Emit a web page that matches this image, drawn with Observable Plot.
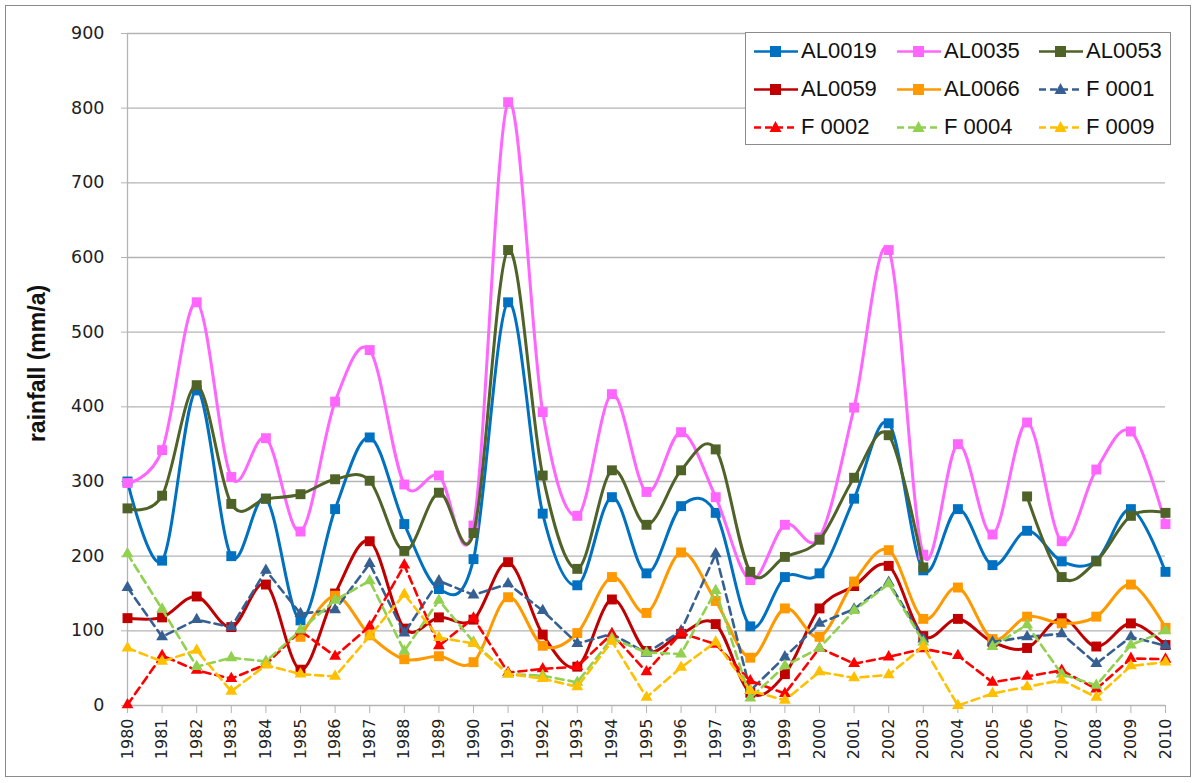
<!DOCTYPE html>
<html><head><meta charset="utf-8">
<script src="https://cdn.jsdelivr.net/npm/d3@7"></script>
<script src="https://cdn.jsdelivr.net/npm/@observablehq/plot@0.6"></script>
<style>
body{margin:0;background:#fff;}
#wrap{position:relative;width:1197px;height:783px;overflow:hidden;}
#chart{position:absolute;left:0;top:0;}
#frame{position:absolute;left:5px;top:5px;width:1184px;height:770px;border:1.5px solid #8a8a8a;pointer-events:none;}
#legend{position:absolute;left:745px;top:32px;width:424px;height:111px;border:1px solid #8c8c8c;background:#fff;}
.item{position:absolute;height:30px;display:flex;align-items:center;font-family:"Liberation Sans",Arial,sans-serif;font-size:22px;color:#111;white-space:nowrap;}
.item svg{margin-right:3px;}
</style></head><body>
<div id="wrap"><div id="chart"></div><div id="legend"></div><div id="frame"></div></div>
<script>
const years = d3.range(1980, 2011);
const yTicks = [0, 100, 200, 300, 400, 500, 600, 700, 800, 900];

const AL0019 = [300,194,422,200,277,114,263,359,243,156,196,540,257,161,279,177,267,258,106,172,177,277,378,181,263,188,234,193,194,263,179];
const AL0035 = [298,342,540,306,358,233,407,476,296,308,241,808,393,254,417,286,366,279,168,242,225,399,610,202,350,229,379,220,316,367,243];
const AL0053 = [264,281,429,270,277,283,303,301,207,285,231,610,308,183,315,242,315,343,179,199,222,305,362,185,null,null,280,172,193,254,258];
const AL0059 = [117,118,146,105,162,48,150,220,103,118,115,192,95,52,142,73,96,109,17,42,130,160,187,93,116,85,77,117,79,110,81];
const AL0066 = [null,null,null,null,null,92,147,94,62,66,58,145,80,97,172,124,205,140,64,130,92,166,208,116,158,89,119,110,119,162,104];
const F0001 = [158,92,115,105,181,123,128,190,97,167,148,163,127,83,96,70,100,203,20,65,110,129,165,89,null,85,92,96,56,92,80];
const F0002 = [1,67,47,36,55,100,66,106,188,80,117,44,49,52,96,45,97,82,33,16,77,56,65,76,67,31,39,47,22,63,62];
const F0004 = [203,129,52,64,59,101,141,167,73,141,85,42,40,31,90,71,69,154,10,53,77,127,163,85,null,79,108,42,27,81,100];
const F0009 = [77,59,74,19,54,42,39,93,149,91,83,42,36,25,86,11,51,85,20,7,45,37,41,79,0,16,25,34,11,53,58];

const seriesNames = ["AL0019","AL0035","AL0053","AL0059","AL0066","F 0001","F 0002","F 0004","F 0009"];
const seriesValues = [AL0019,AL0035,AL0053,AL0059,AL0066,F0001,F0002,F0004,F0009];

// styles (kept apart from data)
const seriesColors = ["#0070c0","#ff66ff","#4f6228","#c00000","#ff9900","#376092","#ff0000","#92d050","#ffc000"];
const seriesSymbols = ["square","square","square","square","square","triangle","triangle","triangle","triangle"];

const rows = [];
seriesNames.forEach((n, i) => years.forEach((yr, j) => rows.push({series: n, year: yr, value: seriesValues[i][j]})));

const gridColor = "#b4b4b4";
const marks = [
  Plot.gridY(yTicks, {stroke: gridColor, strokeOpacity: 1, strokeWidth: 1.3}),
  Plot.ruleX([1980], {stroke: gridColor, strokeWidth: 1.3}),
  Plot.axisY(yTicks, {tickSize: 6, tickPadding: 17, fontSize: 17.5, stroke: gridColor, label: null}),
  Plot.axisX(years, {tickSize: 8, tickPadding: 5, tickRotate: -90, fontSize: 16, stroke: gridColor, tickFormat: d => String(d), label: null}),
  Plot.text(["rainfall (mm/a)"], {frameAnchor: "left", textAnchor: "middle", rotate: -90, dx: -90, dy: -6, fontWeight: "bold", fontSize: 23, fontFamily: "Liberation Sans Narrow, Liberation Sans, sans-serif", fill: "#111"})
];
seriesNames.forEach((n, i) => {
  const data = rows.filter(d => d.series === n);
  const isSq = seriesSymbols[i] === "square";
  marks.push(Plot.line(data, {x: "year", y: "value", stroke: seriesColors[i], strokeWidth: isSq ? 3 : 2.6,
    curve: isSq ? "cardinal" : "linear", strokeDasharray: isSq ? null : "8,5"}));
  marks.push(Plot.dot(data.filter(d => d.value != null), {x: "year", y: "value", symbol: seriesSymbols[i],
    r: isSq ? 5.6 : 4.4, fill: seriesColors[i], stroke: "none"}));
});

const chart = Plot.plot({
  width: 1197, height: 783,
  marginLeft: 127, marginRight: 32, marginTop: 33, marginBottom: 78,
  x: {domain: [1980, 2010], label: null},
  y: {domain: [0, 900], label: null},
  style: {fontFamily: "DejaVu Sans, Verdana, sans-serif", color: "#222", background: "transparent", overflow: "visible"},
  marks
});
document.getElementById("chart").appendChild(chart);

// legend
const legend = document.getElementById("legend");
const colX = [8, 151, 293];
const rowY = [3, 41, 79];
seriesNames.forEach((n, i) => {
  const it = document.createElement("div");
  it.className = "item";
  it.style.left = colX[i % 3] + "px";
  it.style.top = rowY[Math.floor(i / 3)] + "px";
  const isSq = seriesSymbols[i] === "square";
  const c = seriesColors[i];
  const mk = isSq ? `<rect x="16" y="8" width="11" height="11" fill="${c}"/>`
                  : `<path d="M21.5,7 L27.5,18 L15.5,18 Z" fill="${c}"/>`;
  it.innerHTML = `<svg width="44" height="26" viewBox="0 0 44 26"><line x1="0" x2="44" y1="13.5" y2="13.5" stroke="${c}" stroke-width="2.6" ${isSq ? "" : 'stroke-dasharray="7,4"'}/>${mk}</svg><span>${n}</span>`;
  legend.appendChild(it);
});
</script>
</body></html>
